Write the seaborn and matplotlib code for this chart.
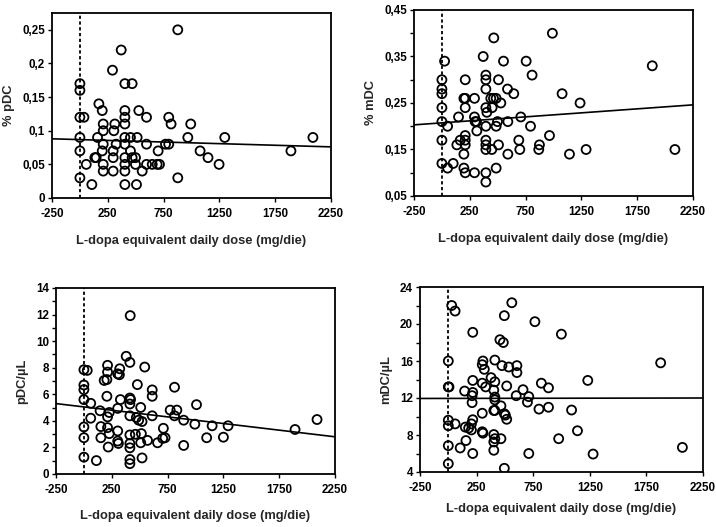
import matplotlib
matplotlib.use("Agg")
import matplotlib.pyplot as plt
import seaborn as sns
import pandas as pd
from matplotlib.ticker import FixedLocator

# ---------------- data ----------------
# Panel 1: % pDC
p1_dose = [877, 370, 292, 403, 468, 0, 0, 170,
           200, 403, 528,
           0, 36, 403, 597, 796,
           209, 313, 403, 817, 993,
           209, 304,
           0, 158, 403, 453, 513, 967, 1298, 2088,
           209, 325, 403, 597, 767, 796,
           0, 200, 298, 453, 701, 1077, 1891,
           134, 146, 298, 403, 468, 498, 1148,
           57, 209, 403, 498, 597, 648, 692, 713, 1247,
           209, 298, 403, 558,
           0, 877,
           107, 403, 507]
p1_val = [0.25, 0.22, 0.19, 0.17, 0.17, 0.17, 0.16, 0.14,
          0.13, 0.13, 0.13,
          0.12, 0.12, 0.12, 0.12, 0.12,
          0.11, 0.11, 0.11, 0.11, 0.11,
          0.10, 0.10,
          0.09, 0.09, 0.09, 0.09, 0.09, 0.09, 0.09, 0.09,
          0.08, 0.08, 0.08, 0.08, 0.08, 0.08,
          0.07, 0.07, 0.07, 0.07, 0.07, 0.07, 0.07,
          0.06, 0.06, 0.06, 0.06, 0.06, 0.06, 0.06,
          0.05, 0.05, 0.05, 0.05, 0.05, 0.05, 0.05, 0.05, 0.05,
          0.04, 0.04, 0.04, 0.04,
          0.03, 0.03,
          0.02, 0.02, 0.02]
p1_trend = [0.088, 0.076]

# Panel 2: % mDC
p2_dose = [990, 465, 370, 24, 552, 755, 1885, 394, 808,
           0, 209, 394, 507,
           0, 394, 588,
           0, 644, 1077,
           197, 209, 292, 438, 462, 486,
           1238, 528,
           0, 209, 394, 450,
           403,
           149, 292, 707,
           0, 298, 310, 498, 591,
           51, 394, 486, 794,
           313,
           209, 964,
           0, 164, 209, 394, 689,
           134, 209, 394, 507, 874,
           394, 447, 698, 868, 1292, 2088,
           197, 591, 1143,
           0, 101,
           51, 197, 486,
           209, 292, 394,
           394]
p2_val = [0.40, 0.39, 0.35, 0.34, 0.34, 0.34, 0.33, 0.31, 0.31,
          0.30, 0.30, 0.30, 0.30,
          0.28, 0.28, 0.28,
          0.27, 0.27, 0.27,
          0.26, 0.26, 0.26, 0.26, 0.26, 0.26,
          0.25, 0.25,
          0.24, 0.24, 0.24, 0.24,
          0.23,
          0.22, 0.22, 0.22,
          0.21, 0.21, 0.21, 0.21, 0.21,
          0.20, 0.20, 0.20, 0.20,
          0.19,
          0.18, 0.18,
          0.17, 0.17, 0.17, 0.17, 0.17,
          0.16, 0.16, 0.16, 0.16, 0.16,
          0.15, 0.15, 0.15, 0.15, 0.15, 0.15,
          0.14, 0.14, 0.14,
          0.12, 0.12,
          0.11, 0.11, 0.11,
          0.10, 0.10, 0.10,
          0.08]
p2_trend = [0.203, 0.246]

# Panel 3: pDC/uL
p3_dose = [415, 379, 412, 212, 321, 545, 0, 30, 212, 303, 318, 182, 206,
           0, 0, 479, 812, 612, 612, 206, 0, 327, 412, 418, 61, 412, 1009,
           303, 509, 145, 227, 212, 773, 833, 412, 612, 812, 470, 491, 521,
           61, 894, 994, 0, 152, 212, 303, 712, 227, 412, 461, 515, 0, 152,
           303, 309, 727, 706, 1100, 570, 412, 509, 660, 218, 412, 894, 0,
           112, 521, 412, 412, 1149, 1292, 1250, 1892, 2089]
p3_val = [11.92, 8.86, 8.4, 8.18, 7.92, 8.05, 7.85, 7.8, 7.67, 7.54, 7.47, 7.04, 7.11,
          6.7, 6.35, 6.73, 6.53, 6.33, 5.85, 5.85, 5.6, 5.6, 5.72, 5.6, 5.32, 5.27, 5.22,
          4.94, 5.01, 4.76, 4.63, 4.3, 4.81, 4.81, 4.38, 4.38, 4.38, 4.25, 4.05, 3.95,
          4.2, 4.05, 3.75, 3.54, 3.57, 3.49, 3.24, 3.44, 3.04, 2.94, 2.99, 3.04, 2.73, 2.73,
          2.48, 2.3, 2.73, 2.68, 2.73, 2.53, 2.3, 2.35, 2.35, 2.03, 1.97, 2.15, 1.27,
          1.01, 1.21, 1.09, 0.78, 3.63, 3.63, 2.77, 3.35, 4.1]
p3_trend = [5.3, 2.8]

# Panel 4: mDC/uL
p4_dose = [30, 60, 561, 495, 765, 999, 216, 456, 486, 0, 306, 300, 318, 411,
           474, 534, 606, 606, 216, 378, 411, 0, 6, 144, 216, 300, 330, 402,
           516, 660, 822, 885, 210, 210, 411, 411, 600, 711, 699, 465, 801,
           885, 1089, 402, 411, 495, 504, 516, 300, 0, 0, 60, 216, 204, 150,
           180, 204, 300, 306, 402, 411, 465, 402, 975, 156, 0, 105, 216, 402,
           711, 0, 495, 1141, 1279, 2068, 1876, 1232]
p4_val = [22.0, 21.4, 22.3, 20.9, 20.25, 18.9, 19.1, 18.3, 18.0, 16.0, 16.0, 15.6, 15.1, 16.1,
          15.5, 15.35, 15.5, 14.75, 13.9, 14.2, 13.75, 13.2, 13.2, 12.75, 12.6, 13.6, 13.2, 12.85,
          13.3, 12.9, 13.6, 13.1, 12.25, 11.5, 12.1, 11.8, 12.25, 12.15, 11.55, 11.15, 10.8,
          11.0, 10.7, 10.65, 10.65, 10.3, 10.15, 9.7, 10.35, 9.6, 9.0, 9.2, 9.65, 9.2, 8.85,
          8.75, 8.55, 8.35, 8.2, 8.05, 7.6, 7.6, 7.25, 7.6, 7.4, 6.85, 6.6, 6.0, 6.35,
          6.0, 4.9, 4.4, 8.46, 5.94, 6.66, 15.8, 13.9]
p4_trend = [11.95, 12.0]

x_range = [-250, 2250]
x_ticks = [-250, 250, 750, 1250, 1750, 2250]
x_ticklabels = ["-250", "250", "750", "1250", "1750", "2250"]
ref_dose = 0
x_title = "L-dopa equivalent daily dose (mg/die)"

y_titles = ["% pDC", "% mDC", "pDC/\u00b5L", "mDC/\u00b5L"]
y_limits = [(0, 0.275), (0.05, 0.45), (0, 14), (4, 24)]
y_ticks = [[0, 0.05, 0.10, 0.15, 0.20, 0.25],
           [0.05, 0.15, 0.25, 0.35, 0.45],
           [0, 2, 4, 6, 8, 10, 12, 14],
           [4, 8, 12, 16, 20, 24]]
y_ticklabels = [["0", "0,05", "0,1", "0,15", "0,2", "0,25"],
                ["0,05", "0,15", "0,25", "0,35", "0,45"],
                ["0", "2", "4", "6", "8", "10", "12", "14"],
                ["4", "8", "12", "16", "20", "24"]]
y_minor = [[], [0.1, 0.2, 0.3, 0.4],
           [1, 3, 5, 7, 9, 11, 13],
           [6, 10, 14, 18, 22]]

doses = [p1_dose, p2_dose, p3_dose, p4_dose]
vals = [p1_val, p2_val, p3_val, p4_val]
trends = [p1_trend, p2_trend, p3_trend, p4_trend]

# ---------------- style ----------------
sns.set_theme(style="ticks")
plt.rcParams['font.family'] = ['Liberation Sans', 'DejaVu Sans']
plt.rcParams['font.weight'] = 'bold'

fig = plt.figure(figsize=(7.16, 5.27), dpi=100)

W, H = 716, 527
boxes = [(52, 13, 331, 198), (414, 10, 693, 196),
         (56, 288, 335, 474), (420, 287, 703, 472)]
xlabel_pads = [11, 11, 10, 7]
ylabel_pads = [5, 5, 6, 6]

for i in range(4):
    l, t, r, b = boxes[i]
    ax = fig.add_axes([l / W, 1 - b / H, (r - l) / W, (b - t) / H])
    df = pd.DataFrame({"dose": doses[i], "value": vals[i]})
    ax.axvline(ref_dose, color="black", lw=1.3, ls=(0, (1.8, 1.4)), zorder=1)
    sns.lineplot(x=x_range, y=trends[i], ax=ax, color="black", lw=1.2, zorder=2)
    sns.scatterplot(data=df, x="dose", y="value", ax=ax, marker="o", s=42,
                    facecolor="none", edgecolor="black", linewidth=1.3, zorder=3)
    ax.set_xlim(*x_range)
    ax.set_ylim(*y_limits[i])
    ax.set_xticks(x_ticks)
    ax.set_xticklabels(x_ticklabels, fontsize=8.4, fontweight="bold")
    ax.set_yticks(y_ticks[i])
    ax.set_yticklabels(y_ticklabels[i], fontsize=8.4, fontweight="bold")
    if y_minor[i]:
        ax.yaxis.set_minor_locator(FixedLocator(y_minor[i]))
    ax.tick_params(axis="both", which="both", direction="out", length=3,
                   width=1, color="black", labelcolor="black")
    ax.tick_params(axis="x", pad=4)
    ax.tick_params(axis="y", pad=2)
    for sp in ax.spines.values():
        sp.set_visible(True)
        sp.set_color("black")
        sp.set_linewidth(1.3)
    ax.set_xlabel(x_title, fontsize=9.3, fontweight="bold", labelpad=xlabel_pads[i])
    ax.set_ylabel(y_titles[i], fontsize=9.3, fontweight="bold", labelpad=ylabel_pads[i])
    ax.grid(False)
    ax.set_facecolor("white")

fig.savefig("out.png", dpi=100, facecolor="white")
